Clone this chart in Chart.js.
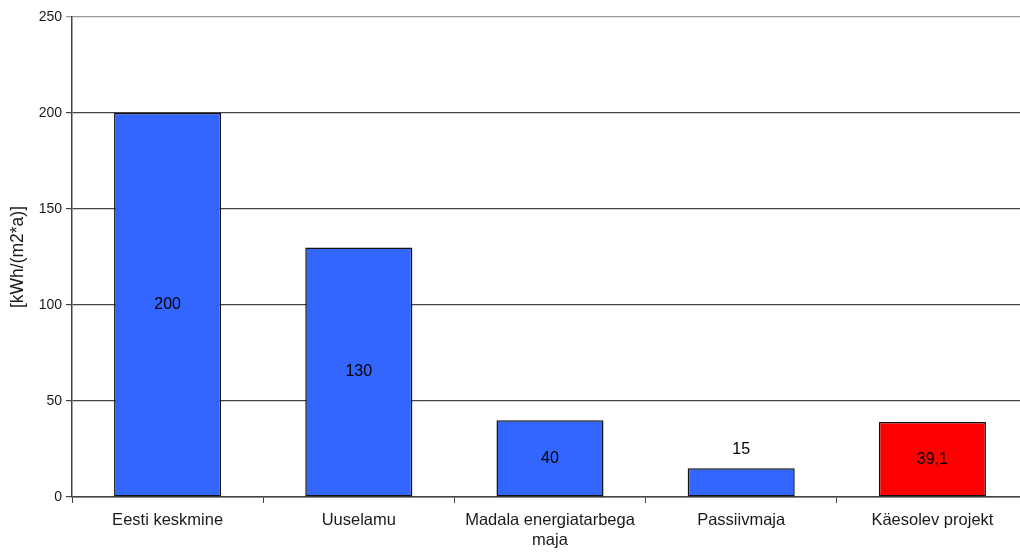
<!DOCTYPE html>
<html>
<head>
<meta charset="utf-8">
<script src="https://cdn.jsdelivr.net/npm/chart.js@4.4.1/dist/chart.umd.min.js"></script>
<style>
  html, body { margin: 0; padding: 0; background: #fff; overflow: hidden; }
  #wrap { width: 1032px; height: 554px; }
</style>
</head>
<body>
<div id="wrap"><canvas id="energyChart" width="1032" height="554"></canvas></div>
<script>
// --- Data ---
const categories = ['Eesti keskmine', 'Uuselamu', ['Madala energiatarbega', 'maja'], 'Passiivmaja', 'Käesolev projekt'];
const consumption = [200, 130, 40, 15, 39.1];
const barColors = ['#3366ff', '#3366ff', '#3366ff', '#3366ff', '#ff0000'];
const yTicks = [0, 50, 100, 150, 200, 250];

const FONT = 'Liberation Sans, Arial, sans-serif';

// value labels: centred in the bar, or above it when the bar is too short
const valueLabels = {
    id: 'valueLabels',
    afterDatasetsDraw(chart) {
        const ctx = chart.ctx;
        const meta = chart.getDatasetMeta(0);
        ctx.save();
        ctx.font = '16px ' + FONT;
        ctx.fillStyle = '#000';
        ctx.textAlign = 'center';
        ctx.textBaseline = 'middle';
        meta.data.forEach((bar, i) => {
            const txt = String(consumption[i]).replace('.', ',');
            const h = bar.base - bar.y;
            const y = h < 40 ? bar.y - 19 : bar.y + h / 2;
            ctx.fillText(txt, bar.x, y);
        });
        ctx.restore();
    }
};

new Chart(document.getElementById('energyChart'), {
    type: 'bar',
    data: {
        labels: categories,
        datasets: [{
            data: consumption,
            backgroundColor: barColors,
            borderColor: '#111',
            borderWidth: 1.5,
            borderSkipped: false,
            categoryPercentage: 1,
            barPercentage: 0.56
        }]
    },
    options: {
        responsive: false,
        animation: false,
        layout: { padding: { top: 17, right: 4, left: 0, bottom: 0 } },
        plugins: { legend: { display: false }, tooltip: { enabled: false } },
        scales: {
            x: {
                grid: {
                    drawOnChartArea: false,
                    drawTicks: true,
                    tickLength: 6,
                    color: '#444'
                },
                border: { color: '#444', width: 1.5 },
                ticks: {
                    color: '#1a1a1a',
                    padding: 8,
                    maxRotation: 0,
                    autoSkip: false,
                    font: { family: FONT, size: 16.5 }
                },
                afterFit(scale) { scale.height = 57; }
            },
            y: {
                min: 0,
                max: 250,
                afterBuildTicks(scale) { scale.ticks = yTicks.map(v => ({ value: v })); },
                grid: {
                    color: ctx => ctx.tick && ctx.tick.value === 250 ? '#999' : '#444',
                    tickLength: 6,
                    lineWidth: 1.2
                },
                border: { color: '#444', width: 1.5 },
                ticks: {
                    color: '#1a1a1a',
                    padding: 4,
                    font: { family: FONT, size: 14 }
                },
                title: {
                    display: true,
                    text: '[kWh/(m2*a)]',
                    color: '#1a1a1a',
                    padding: { top: 8, bottom: 0 },
                    font: { family: FONT, size: 17.5 }
                },
                afterFit(scale) { scale.width = 72; }
            }
        }
    },
    plugins: [valueLabels]
});
</script>
</body>
</html>
